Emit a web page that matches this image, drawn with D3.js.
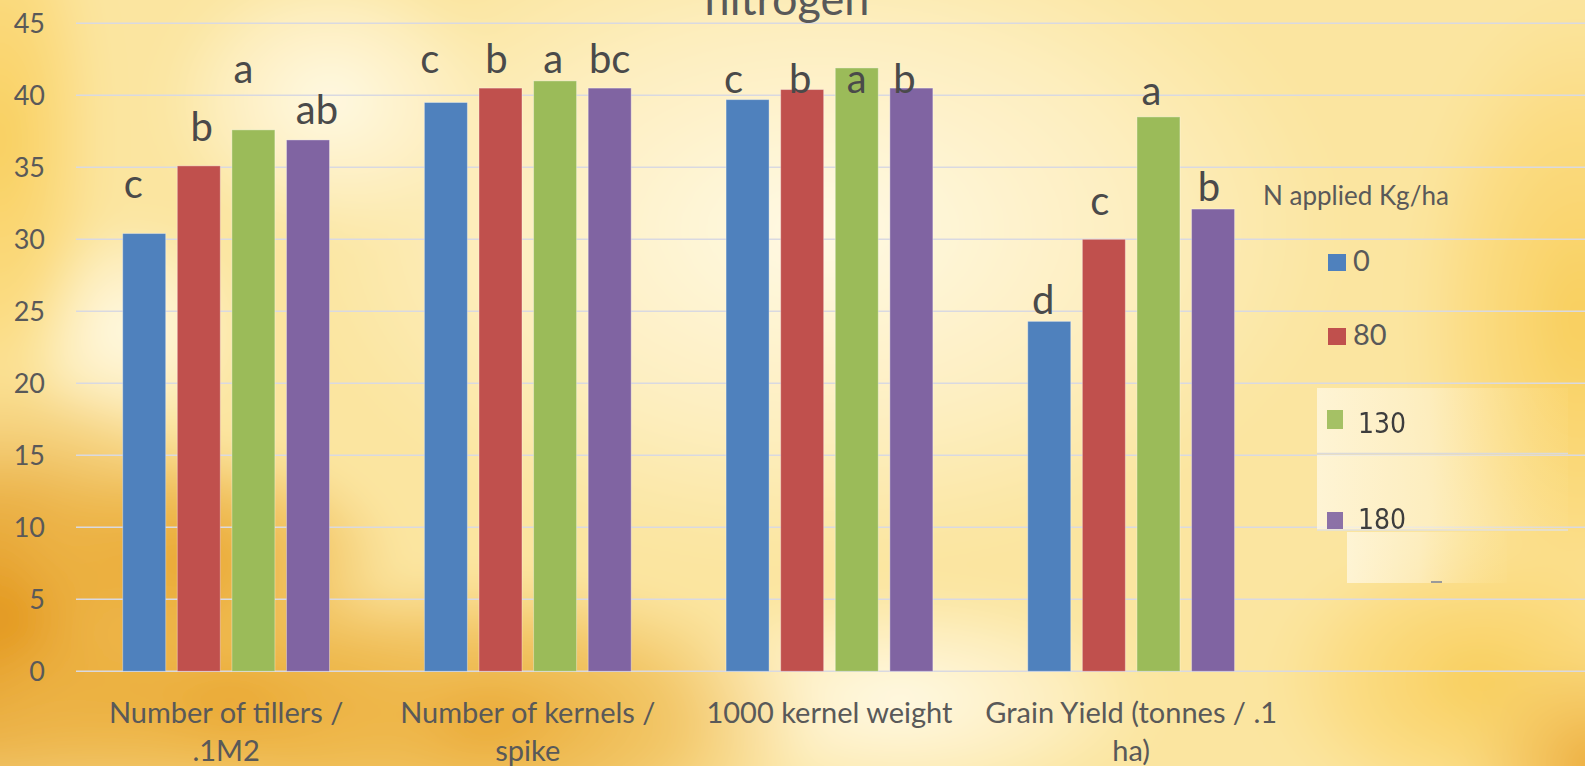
<!DOCTYPE html>
<html>
<head>
<meta charset="utf-8">
<script src="https://cdn.jsdelivr.net/npm/d3@7/dist/d3.min.js"></script>
<style>
  html, body { margin: 0; padding: 0; overflow: hidden; background: #fbe6a0; }
  svg { display: block; }
</style>
</head>
<body>
<svg id="chart" width="1585" height="766"></svg>
<script>
// ---- data ----
const categoryLines = [
  ["Number of tillers /", ".1M2"],
  ["Number of kernels /", "spike"],
  ["1000 kernel weight"],
  ["Grain Yield (tonnes / .1", "ha)"]
];
const nRates = ["0", "80", "130", "180"];          // N applied, kg/ha
const n0   = [30.4, 39.5, 39.7, 24.3];
const n80  = [35.1, 40.5, 40.4, 30.0];
const n130 = [37.6, 41.0, 41.9, 38.5];
const n180 = [36.9, 40.5, 40.5, 32.1];
// mean-separation letters
const sig0   = ["c", "c", "c", "d"];
const sig80  = ["b", "b", "b", "c"];
const sig130 = ["a", "a", "a", "a"];
const sig180 = ["ab", "bc", "b", "b"];
const yTicks = [0, 5, 10, 15, 20, 25, 30, 35, 40, 45];
const chartTitle = "nitrogen";
const legendTitle = "N applied Kg/ha";

// ---- layout & style ----
const W = 1585, H = 766;
const colors = ["#4f81bd", "#c0504d", "#9bbb59", "#8064a2"];
const seriesVals = [n0, n80, n130, n180];
const seriesSig = [sig0, sig80, sig130, sig180];
const calibriLike = "Lato, 'Open Sans', sans-serif";

const svg = d3.select("#chart");
const defs = svg.append("defs");

// ---- warm bokeh backdrop ----
function radial(id, stops) {
  const g = defs.append("radialGradient").attr("id", id);
  stops.forEach(([o, c, a]) => g.append("stop").attr("offset", o).attr("stop-color", c).attr("stop-opacity", a));
}
radial("gOrange", [[0, "#e2961a", 1], [0.5, "#e6a32e", 0.75], [1, "#eeb64a", 0]]);
radial("gOrange2", [[0, "#e8a42c", 0.95], [0.6, "#edb444", 0.6], [1, "#f2c05a", 0]]);
radial("gCream", [[0, "#fffbea", 0.95], [0.6, "#fff5d6", 0.6], [1, "#fff3d0", 0]]);
radial("gYellow", [[0, "#f8cc56", 0.95], [0.6, "#fad46a", 0.55], [1, "#fbdc80", 0]]);
radial("gAmber", [[0, "#eba532", 1], [0.6, "#f1bc52", 0.5], [1, "#f6cc6c", 0]]);
defs.append("filter").attr("id", "soft").append("feGaussianBlur").attr("stdDeviation", 18);

const bg = svg.append("g").attr("filter", "url(#soft)");
bg.append("rect").attr("x", -60).attr("y", -60).attr("width", W + 120).attr("height", H + 120).attr("fill", "#fbe5a0");
const blobs = [
  ["gCream", 820, 230, 520, 330],
  ["gCream", 330, 100, 170, 140],
  ["gCream", 130, 330, 120, 110],
  ["gCream", 900, 700, 260, 110],
  ["gYellow", 0, 140, 110, 300],
  ["gYellow", 1580, 320, 180, 340],
  ["gYellow", 1480, 680, 220, 150],
  ["gOrange", 0, 620, 300, 250],
  ["gOrange2", 480, 720, 340, 150],
  ["gOrange2", 230, 700, 260, 130],
  ["gOrange2", 200, 560, 200, 120],
  ["gAmber", 1600, 770, 150, 130]
];
blobs.forEach(([id, cx, cy, rx, ry]) =>
  bg.append("ellipse").attr("cx", cx).attr("cy", cy).attr("rx", rx).attr("ry", ry).attr("fill", `url(#${id})`));

// ---- scales ----
const y = d3.scaleLinear().domain([0, 45]).range([671.3, 23.3]);
const x0 = d3.scaleBand().domain(d3.range(categoryLines.length)).range([75.25, 1282]).padding(0);
const groupSpan = 206.8;
const x1 = d3.scaleBand().domain(nRates).range([0, groupSpan]).paddingInner(0.2125).paddingOuter(0);
const groupStart = i => x0(i) + (x0.bandwidth() - groupSpan) / 2;

// ---- gridlines ----
svg.append("g").selectAll("line").data(yTicks).join("line")
  .attr("x1", 76).attr("x2", W)
  .attr("y1", d => y(d)).attr("y2", d => y(d))
  .attr("stroke", "#d9d9e1").attr("stroke-width", 1.6);

// ---- y axis labels ----
const yAxis = d3.axisLeft(y).tickValues(yTicks).tickSize(0).tickPadding(0);
const ya = svg.append("g").attr("transform", "translate(45,0)").call(yAxis);
ya.select(".domain").remove();
ya.selectAll("text").attr("font-family", calibriLike).attr("font-size", 27)
  .attr("fill", "#595959").attr("dy", "0.35em");

// ---- title (partly above the frame) ----
svg.append("text").attr("x", 787).attr("y", 15).attr("text-anchor", "middle")
  .attr("font-family", calibriLike).attr("font-size", 45).attr("fill", "#595959")
  .text(chartTitle);

// ---- bars ----
const barData = [];
categoryLines.forEach((_, ci) => nRates.forEach((r, si) => barData.push({ ci, si, r, v: seriesVals[si][ci], s: seriesSig[si][ci] })));

svg.append("g").selectAll("rect").data(barData).join("rect")
  .attr("x", d => groupStart(d.ci) + x1(d.r))
  .attr("y", d => y(d.v))
  .attr("width", x1.bandwidth())
  .attr("height", d => y(0) - y(d.v))
  .attr("fill", d => colors[d.si])
  .attr("stroke", "rgba(255,255,255,0.35)").attr("stroke-width", 1);

// ---- significance letters (hand-placed text boxes: [dx, lift] in px per bar) ----
const letterNudge = [
  [[-11, 36], [3, 25], [-10, 47], [9, 16]],
  [[-16, 30], [-4, 15], [-2, 8], [0, 15]],
  [[-14, 7], [-2, -3], [0, -25], [-7, -5]],
  [[-6, 7], [-4, 24], [-7, 12], [-4, 8]]
];
svg.append("g").selectAll("text").data(barData).join("text")
  .attr("x", d => groupStart(d.ci) + x1(d.r) + x1.bandwidth() / 2 + letterNudge[d.ci][d.si][0])
  .attr("y", d => y(d.v) - letterNudge[d.ci][d.si][1])
  .attr("text-anchor", "middle")
  .attr("font-family", calibriLike).attr("font-size", 40).attr("fill", "#4a4a4a")
  .text(d => d.s);

// ---- category labels ----
const cat = svg.append("g").selectAll("text").data(categoryLines).join("text")
  .attr("text-anchor", "middle")
  .attr("font-family", calibriLike).attr("font-size", 29).attr("fill", "#595959");
cat.each(function (lines, i) {
  d3.select(this).selectAll("tspan").data(lines).join("tspan")
    .attr("x", x0(i) + x0.bandwidth() / 2)
    .attr("y", (d, k) => 723 + k * 38)
    .text(d => d);
});

// ---- legend (pasted panel behind the lower entries) ----
const lg = svg.append("g");
const panel = defs.append("linearGradient").attr("id", "panel");
[[0, "#fff9e6", 0.75], [0.45, "#fff5da", 0.55], [1, "#fde6a0", 0.1]].forEach(([o, c, a]) =>
  panel.append("stop").attr("offset", o).attr("stop-color", c).attr("stop-opacity", a));
lg.append("rect").attr("x", 1317).attr("y", 388).attr("width", 251).attr("height", 65).attr("fill", "url(#panel)");
lg.append("rect").attr("x", 1317).attr("y", 455).attr("width", 251).attr("height", 75).attr("fill", "url(#panel)");
lg.append("rect").attr("x", 1347).attr("y", 532).attr("width", 160).attr("height", 51).attr("fill", "url(#panel)");
lg.append("line").attr("x1", 1317).attr("x2", 1568).attr("y1", 453.5).attr("y2", 453.5).attr("stroke", "#dcdad8").attr("stroke-width", 1.5);
lg.append("line").attr("x1", 1317).attr("x2", 1568).attr("y1", 530).attr("y2", 530).attr("stroke", "#e2e0dc").attr("stroke-width", 1.5);
lg.append("rect").attr("x", 1431).attr("y", 581).attr("width", 11).attr("height", 2).attr("fill", "#9a9a9a");

lg.append("text").attr("x", 1263).attr("y", 205)
  .attr("font-family", calibriLike).attr("font-size", 26).attr("fill", "#595959").text(legendTitle);

// first two entries in chart style, last two as pasted bitmap-style text
const legendRows = [
  { sq: [1328, 254, 18, 17], tx: [1353, 271], font: calibriLike, size: 29, fill: "#595959", blur: false },
  { sq: [1328, 328, 18, 17], tx: [1353, 345], font: calibriLike, size: 29, fill: "#595959", blur: false },
  { sq: [1327, 410, 16, 19], tx: [1358, 433], font: "'Liberation Sans Narrow', 'DejaVu Sans Condensed', sans-serif", size: 28, fill: "#3d3d3d", blur: true },
  { sq: [1327, 512, 16, 17], tx: [1358, 529], font: "'Liberation Sans Narrow', 'DejaVu Sans Condensed', sans-serif", size: 28, fill: "#3d3d3d", blur: true }
];
defs.append("filter").attr("id", "pasted").append("feGaussianBlur").attr("stdDeviation", 0.6);
legendRows.forEach((row, i) => {
  const g = lg.append("g").attr("filter", row.blur ? "url(#pasted)" : null);
  g.append("rect").attr("x", row.sq[0]).attr("y", row.sq[1]).attr("width", row.sq[2]).attr("height", row.sq[3])
    .attr("fill", colors[i]).attr("opacity", row.blur ? 0.9 : 1);
  g.append("text").attr("x", row.tx[0]).attr("y", row.tx[1])
    .attr("font-family", row.font).attr("font-size", row.size).attr("fill", row.fill)
    .text(nRates[i]);
});
</script>
</body>
</html>
